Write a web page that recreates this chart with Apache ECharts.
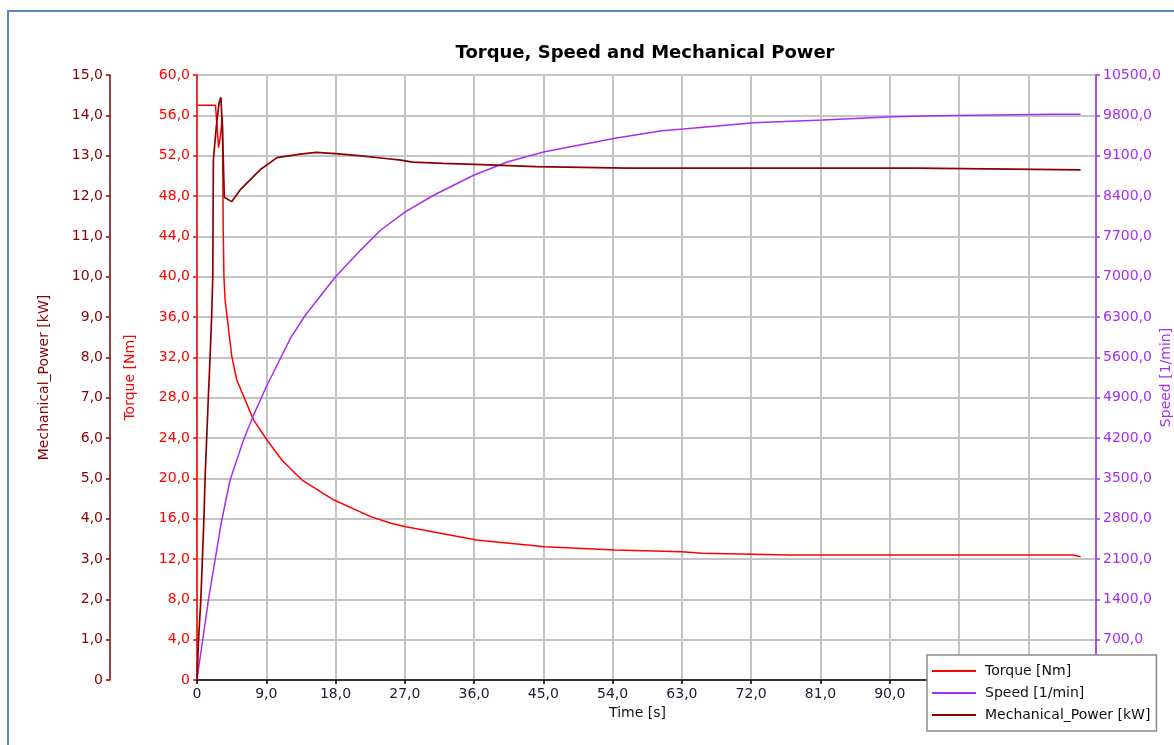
<!DOCTYPE html>
<html>
<head>
<meta charset="utf-8">
<title>Torque, Speed and Mechanical Power</title>
<script src="https://cdn.jsdelivr.net/npm/echarts@6/dist/echarts.min.js"></script>
<style>
  html, body { margin: 0; padding: 0; background: #fff; }
  #chart { width: 1174px; height: 745px; }
</style>
</head>
<body>
<div id="chart"></div>
<script>
// values, [time s, value]
const torqueData = [
  [0, 57], [2.4, 57], [2.55, 55.5], [2.8, 52.8], [3.05, 54], [3.3, 55.8],
  [3.4, 45], [3.5, 40], [3.65, 37.7], [4.52, 32.1], [5.17, 29.75], [6.26, 27.77],
  [7.35, 25.8], [9.09, 23.8], [11.05, 21.8], [13.65, 19.83], [17.8, 17.85],
  [22.57, 16.2], [25.2, 15.54], [27.13, 15.2], [36.3, 13.88], [45.17, 13.22],
  [54.3, 12.89], [63, 12.72], [65.6, 12.56], [77.05, 12.4], [113.8, 12.4], [114.8, 12.23]
]
const speedData = [
  [0, 0], [0.17, 174], [0.74, 694], [1.48, 1388], [2.35, 2083], [3.22, 2777],
  [4.3, 3471], [6.04, 4165], [7.26, 4570], [9.0, 5090], [12.13, 5930], [14.09, 6335],
  [18.0, 7000], [21.26, 7461], [23.87, 7810], [27.1, 8128], [30.8, 8417], [34.7, 8678],
  [36, 8764], [40.4, 8995], [45.17, 9169], [54.3, 9401], [60.4, 9533], [63.2, 9562],
  [72.35, 9672], [81.3, 9719], [90.4, 9776], [96, 9794], [111.3, 9818], [114.8, 9818]
]
const powerData = [
  [0, 0], [0.2, 1.0], [0.5, 2.0], [0.7, 3.0], [0.9, 4.0], [1.05, 5.0], [1.26, 6.0],
  [1.47, 7.0], [1.7, 8.0], [1.9, 9.0], [2.05, 10.0], [2.13, 12.9], [2.5, 13.7],
  [2.86, 14.3], [3.1, 14.45], [3.3, 13.7], [3.55, 11.97], [4.5, 11.86], [5.6, 12.15],
  [8.2, 12.65], [10.4, 12.95], [13.4, 13.04], [15.5, 13.08], [18, 13.05], [21, 13.0],
  [24.5, 12.93], [26.5, 12.89], [28, 12.84], [32, 12.81], [37, 12.78], [44, 12.73],
  [56, 12.69], [93.5, 12.69], [93.6, 12.65], [114.8, 12.65]
]
const seriesNames = ['Torque [Nm]', 'Speed [1/min]', 'Mechanical_Power [kW]']

const colTorque = '#ff0000'
const colSpeed = '#a52ff0'
const colPower = '#8b0000'
const font = 'DejaVu Sans'

// "12,0" style labels, plain "0" at the origin
function fmt(v) {
  return v === 0 ? '0' : v.toFixed(1).replace('.', ',')
}

function yAx(name, color, min, max, interval, pos, offset, gap, grid) {
  return {
    type: 'value', name: name, position: pos, offset: offset,
    min: min, max: max, interval: interval,
    nameLocation: 'middle', nameRotate: 90, nameGap: gap, nameMoveOverlap: false,
    nameTextStyle: { color: color, fontSize: 14, fontFamily: font },
    axisLine: { show: true, lineStyle: { color: color, width: 1.5 } },
    axisTick: { show: true, length: 4, lineStyle: { color: color, width: 1.5 } },
    axisLabel: { color: color, fontSize: 14, fontFamily: font, margin: 7, formatter: fmt },
    splitLine: { show: grid, lineStyle: { color: '#c4c4c4', width: 2 } }
  }
}

let chart = echarts.init(document.getElementById('chart'))
let option = {
  backgroundColor: '#fff',
  animation: false,
  textStyle: { fontFamily: font },
  title: {
    text: 'Torque, Speed and Mechanical Power',
    left: 645, top: 44, padding: 0, textAlign: 'center',
    textStyle: { fontSize: 18, fontWeight: 'bold', color: '#000', fontFamily: font }
  },
  graphic: [{
    type: 'rect', z: -1, silent: true,
    shape: { x: 8, y: 11, width: 1300, height: 900 },
    style: { fill: 'none', stroke: '#5a87c6', lineWidth: 2 }
  }],
  legend: {
    data: seriesNames,
    orient: 'vertical',
    left: 927, top: 655,
    padding: [8, 6, 8, 5],
    itemWidth: 44, itemHeight: 2, itemGap: 6,
    icon: 'rect',
    backgroundColor: '#fff',
    borderColor: '#8a8a8a', borderWidth: 1.5, borderRadius: 0,
    textStyle: { fontSize: 14, color: '#111', fontFamily: font, lineHeight: 16, padding: [0, 0, 0, 4] }
  },
  grid: { left: 197, right: 78, top: 75, bottom: 65, outerBoundsMode: 'none' },
  xAxis: {
    type: 'value', min: 0, max: 116.8, interval: 9,
    name: 'Time [s]', nameLocation: 'middle', nameGap: 26, nameMoveOverlap: false,
    nameTextStyle: { color: '#111', fontSize: 14, fontFamily: font, padding: [0, 18, 0, 0] },
    axisLine: { show: true, onZero: false, lineStyle: { color: '#000', width: 1.5 } },
    axisTick: { show: true, length: 4, lineStyle: { color: '#000', width: 1.5 } },
    axisLabel: { color: '#1a1a33', fontSize: 14, fontFamily: font, margin: 7, formatter: fmt, showMaxLabel: false },
    splitLine: { show: true, lineStyle: { color: '#c4c4c4', width: 2 } }
  },
  yAxis: [
    yAx('Torque [Nm]', colTorque, 0, 60, 4, 'left', 0, 60, true),
    yAx('Speed [1/min]', colSpeed, 0, 10500, 700, 'right', 0, 63, false),
    yAx('Mechanical_Power [kW]', colPower, 0, 15, 1, 'left', 87, 59, false)
  ],
  series: [
    { name: seriesNames[0], type: 'line', yAxisIndex: 0, data: torqueData,
      showSymbol: false, symbol: 'none', color: colTorque, lineStyle: { width: 1.5 } },
    { name: seriesNames[1], type: 'line', yAxisIndex: 1, data: speedData,
      showSymbol: false, symbol: 'none', color: colSpeed, lineStyle: { width: 1.5 } },
    { name: seriesNames[2], type: 'line', yAxisIndex: 2, data: powerData,
      showSymbol: false, symbol: 'none', color: colPower, lineStyle: { width: 1.7 } }
  ]
}
chart.setOption(option)
</script>
</body>
</html>
